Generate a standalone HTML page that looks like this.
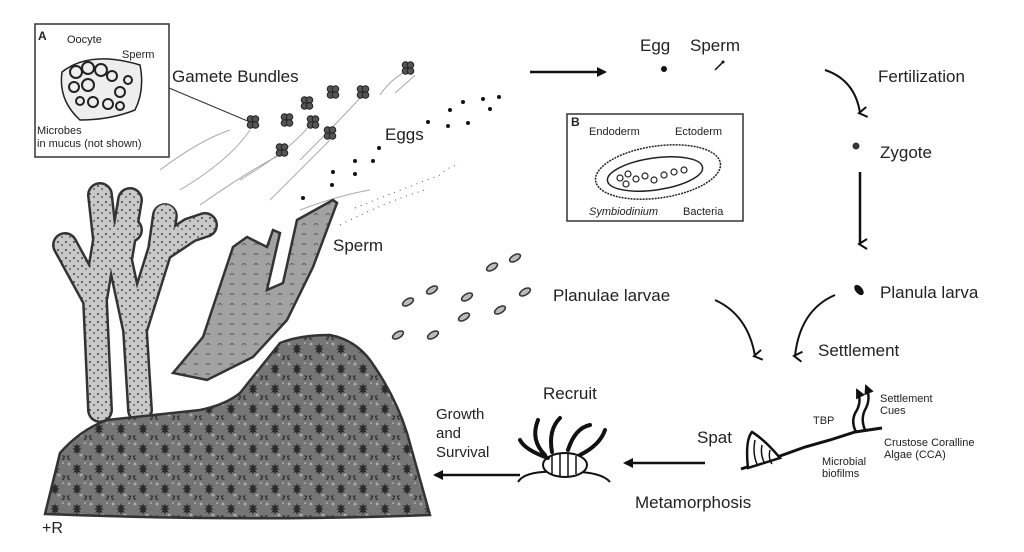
<!DOCTYPE html>
<html><head><meta charset="utf-8"><style>
html,body{margin:0;padding:0;background:#fff;}
svg{display:block}
text{font-family:"Liberation Sans",Arial,sans-serif;fill:#222}
</style></head><body>
<svg width="1024" height="552" viewBox="0 0 1024 552" xmlns="http://www.w3.org/2000/svg">
<defs>
<pattern id="stars" width="22" height="20" patternUnits="userSpaceOnUse">
<rect width="22" height="20" fill="#767676"/>
<circle cx="3" cy="4" r="1.5" fill="#aaa"/><circle cx="15" cy="15" r="1.5" fill="#aaa"/><circle cx="19" cy="3" r="1" fill="#aaa"/>
<path d="M11 3 l1 3 3-1-2 3 3 1-3 1 2 3-3-1-1 3-1-3-3 1 2-3-3-1 3-1-2-3 3 1z" fill="#2a2a2a"/>
<path d="M0 13 l1 3 3-1-2 3 3 1-3 1 M22 13 l-1 3-3-1 2 3-3 1 3 1" fill="#2a2a2a"/>
</pattern>
<pattern id="gray" width="12" height="10" patternUnits="userSpaceOnUse">
<rect width="12" height="10" fill="#a2a2a2"/>
<path d="M2 5 q2 -3 4 0" stroke="#666" fill="none" stroke-width="1.2"/>
</pattern>
<pattern id="speck" width="8" height="8" patternUnits="userSpaceOnUse">
<rect width="8" height="8" fill="#c8c8c8"/>
<circle cx="2" cy="2" r="1" fill="#444"/><circle cx="6" cy="5" r="1" fill="#666"/>
</pattern>
<marker id="ah" markerWidth="10" markerHeight="10" refX="8" refY="5" orient="auto" markerUnits="userSpaceOnUse"><path d="M0 0 L10 5 L0 10 z" fill="#111"/></marker>
<marker id="av" markerWidth="14" markerHeight="14" refX="7" refY="10" orient="auto" markerUnits="userSpaceOnUse"><path d="M2 3 L7 11 L12 3" fill="none" stroke="#111" stroke-width="2"/></marker>
<g id="bun"><circle cx="-2.5" cy="-3" r="3.3"/><circle cx="2.5" cy="-3" r="3.3"/><circle cx="-2.5" cy="3" r="3.3"/><circle cx="2.5" cy="3" r="3.3"/></g>
</defs>

<!-- Box A -->
<rect x="35" y="24" width="134" height="133" fill="#fff" stroke="#333" stroke-width="1.5"/>
<text x="38" y="40" font-size="12" font-weight="bold">A</text>
<text x="67" y="43" font-size="11">Oocyte</text>
<text x="122" y="58" font-size="11">Sperm</text>
<text x="37" y="134" font-size="11">Microbes</text>
<text x="37" y="147" font-size="11">in mucus (not shown)</text>
<path d="M62 72 Q90 50 140 65 Q145 90 135 110 Q110 120 80 120 Q58 100 62 72z" fill="#eee" stroke="#222" stroke-width="1.5"/>
<g fill="none" stroke="#222" stroke-width="2">
<circle cx="76" cy="72" r="6"/><circle cx="88" cy="68" r="6"/><circle cx="101" cy="70" r="6"/><circle cx="112" cy="76" r="5"/>
<circle cx="74" cy="87" r="5"/><circle cx="88" cy="85" r="6"/><circle cx="120" cy="92" r="5"/><circle cx="128" cy="80" r="4"/>
<circle cx="80" cy="101" r="4"/><circle cx="93" cy="102" r="5"/><circle cx="108" cy="104" r="5"/><circle cx="120" cy="106" r="4"/>
</g>
<line x1="169" y1="88" x2="250" y2="122" stroke="#333" stroke-width="1"/>

<!-- gamete bundles -->
<g stroke="#aaa" fill="none" stroke-width="1">
<path d="M180 190 Q230 160 250 130"/><path d="M200 205 Q250 170 280 155"/><path d="M240 180 Q290 150 310 125"/><path d="M270 200 Q310 160 330 140"/>
<path d="M300 160 Q340 120 360 98"/><path d="M380 95 Q390 80 405 72"/><path d="M395 93 Q410 80 415 75"/><path d="M160 170 Q200 140 230 130"/>
<path d="M300 210 Q340 195 370 190"/>
</g>
<g stroke="#555" fill="none" stroke-width="1" stroke-dasharray="1 5">
<path d="M355 208 Q400 190 440 175 Q450 165 460 165"/><path d="M340 225 Q390 200 425 190"/>
</g>
<g fill="#555" stroke="#222" stroke-width="1">
<use href="#bun" x="253" y="122"/><use href="#bun" x="287" y="120"/><use href="#bun" x="307" y="103"/><use href="#bun" x="313" y="122"/>
<use href="#bun" x="333" y="92"/><use href="#bun" x="330" y="133"/><use href="#bun" x="363" y="92"/><use href="#bun" x="282" y="150"/><use href="#bun" x="408" y="68"/>
</g>
<g fill="#111">
<circle cx="303" cy="198" r="2"/><circle cx="332" cy="185" r="2"/><circle cx="333" cy="172" r="2"/><circle cx="355" cy="174" r="2"/>
<circle cx="355" cy="161" r="2"/><circle cx="373" cy="161" r="2"/><circle cx="379" cy="148" r="2"/><circle cx="428" cy="122" r="2"/>
<circle cx="448" cy="126" r="2"/><circle cx="450" cy="110" r="2"/><circle cx="463" cy="102" r="2"/><circle cx="468" cy="123" r="2"/>
<circle cx="483" cy="99" r="2"/><circle cx="490" cy="109" r="2"/><circle cx="499" cy="97" r="2"/>
</g>
<text x="172" y="82" font-size="17">Gamete Bundles</text>
<text x="385" y="140" font-size="17">Eggs</text>
<text x="333" y="251" font-size="17">Sperm</text>

<!-- branching coral -->
<g fill="none" stroke="#333" stroke-linecap="round" stroke-linejoin="round" stroke-width="26" stroke-dasharray="3 2">
<path d="M100 410 L95 300 L65 245 M95 300 L105 240 L100 195 M105 240 L130 230"/>
<path d="M140 410 L135 330 L120 260 L130 200 M135 330 L160 250 L165 215 M160 250 L190 230 L205 225"/>
</g>
<g fill="none" stroke="url(#speck)" stroke-linecap="round" stroke-linejoin="round" stroke-width="21">
<path d="M100 410 L95 300 L65 245 M95 300 L105 240 L100 195 M105 240 L130 230"/>
<path d="M140 410 L135 330 L120 260 L130 200 M135 330 L160 250 L165 215 M160 250 L190 230 L205 225"/>
</g>

<!-- gray coral -->
<path d="M173 373 L203 337 L233 247 L247 237 L267 247 L273 230 L280 233 L267 290 L283 283 L297 220 L333 200 L337 203 L313 267 L287 320 L253 357 L207 380 Z" fill="url(#gray)" stroke="#333" stroke-width="2.5"/>

<!-- mound -->
<path d="M45 514 L60 453 Q80 430 107 420 L200 410 Q225 405 240 393 L280 343 Q300 335 330 335 Q355 340 370 360 Q395 395 407 433 L430 515 Q250 522 45 514Z" fill="url(#stars)" stroke="#333" stroke-width="2.5"/>
<text x="42" y="533" font-size="16" font-family="Liberation Serif">+R</text>

<!-- larvae -->
<g fill="#bbb" stroke="#333" stroke-width="1.5">
<ellipse cx="408" cy="302" rx="6" ry="3" transform="rotate(-30 408 302)"/><ellipse cx="432" cy="290" rx="6" ry="3" transform="rotate(-30 432 290)"/>
<ellipse cx="467" cy="297" rx="6" ry="3" transform="rotate(-30 467 297)"/><ellipse cx="492" cy="267" rx="6" ry="3" transform="rotate(-30 492 267)"/>
<ellipse cx="515" cy="258" rx="6" ry="3" transform="rotate(-30 515 258)"/><ellipse cx="398" cy="335" rx="6" ry="3" transform="rotate(-30 398 335)"/>
<ellipse cx="433" cy="335" rx="6" ry="3" transform="rotate(-30 433 335)"/><ellipse cx="464" cy="317" rx="6" ry="3" transform="rotate(-30 464 317)"/>
<ellipse cx="500" cy="310" rx="6" ry="3" transform="rotate(-30 500 310)"/><ellipse cx="525" cy="292" rx="6" ry="3" transform="rotate(-30 525 292)"/>
</g>

<!-- top right -->
<line x1="530" y1="72" x2="605" y2="72" stroke="#111" stroke-width="2.5" marker-end="url(#ah)"/>
<text x="640" y="51" font-size="17">Egg</text><text x="690" y="51" font-size="17">Sperm</text>
<circle cx="664" cy="69" r="3" fill="#111"/><path d="M715 70 L722 63" stroke="#111" stroke-width="1.5"/><circle cx="723" cy="62" r="1.5" fill="#111"/>
<path d="M825 70 Q855 80 860 113" fill="none" stroke="#111" stroke-width="2" marker-end="url(#av)"/>
<text x="878" y="82" font-size="17">Fertilization</text>
<circle cx="856" cy="146" r="3.5" fill="#333"/>
<text x="880" y="158" font-size="17">Zygote</text>
<line x1="860" y1="172" x2="860" y2="244" stroke="#111" stroke-width="2.5" marker-end="url(#av)"/>
<ellipse cx="859" cy="290" rx="3.5" ry="6" transform="rotate(-40 859 290)" fill="#111"/>
<text x="880" y="298" font-size="17">Planula larva</text>

<!-- Box B -->
<rect x="567" y="114" width="176" height="107" fill="#fff" stroke="#333" stroke-width="1.5"/>
<text x="571" y="126" font-size="12" font-weight="bold">B</text>
<text x="589" y="135" font-size="11">Endoderm</text><text x="675" y="135" font-size="11">Ectoderm</text>
<text x="589" y="215" font-size="11" font-style="italic">Symbiodinium</text><text x="683" y="215" font-size="11">Bacteria</text>
<ellipse cx="658" cy="172" rx="63" ry="26" transform="rotate(-8 658 172)" fill="none" stroke="#222" stroke-width="1.5" stroke-dasharray="2 1"/>
<ellipse cx="655" cy="174" rx="48" ry="16" transform="rotate(-8 655 174)" fill="none" stroke="#222" stroke-width="1.5"/>
<g fill="none" stroke="#222" stroke-width="1.2"><circle cx="620" cy="178" r="3"/><circle cx="628" cy="174" r="3"/><circle cx="636" cy="179" r="3"/><circle cx="645" cy="176" r="3"/><circle cx="654" cy="180" r="3"/><circle cx="664" cy="175" r="3"/><circle cx="674" cy="172" r="3"/><circle cx="684" cy="170" r="3"/><circle cx="626" cy="184" r="3"/></g>

<text x="553" y="301" font-size="17">Planulae larvae</text>
<path d="M715 300 Q748 315 755 356" fill="none" stroke="#111" stroke-width="2" marker-end="url(#av)"/>
<path d="M835 295 Q800 310 795 356" fill="none" stroke="#111" stroke-width="2" marker-end="url(#av)"/>
<text x="818" y="356" font-size="17">Settlement</text>

<!-- bottom right -->
<text x="697" y="443" font-size="17">Spat</text>
<line x1="705" y1="463" x2="625" y2="463" stroke="#111" stroke-width="2.5" marker-end="url(#ah)"/>
<text x="635" y="508" font-size="17">Metamorphosis</text>
<path d="M741 469 L780 456 L805 447 L830 440 L855 432 L882 428" fill="none" stroke="#111" stroke-width="3"/>
<path d="M748 468 Q745 440 752 432 Q765 440 780 458 Z" fill="#fff" stroke="#111" stroke-width="2.5"/>
<path d="M755 440 Q752 455 758 466 M762 445 Q760 455 765 464 M770 450 Q768 458 772 464" stroke="#111" fill="none" stroke-width="1.5"/>
<path d="M856 432 Q850 420 857 410 Q862 400 857 390" fill="none" stroke="#111" stroke-width="2.5" marker-end="url(#ah)"/>
<path d="M865 430 Q860 418 866 408 Q871 398 866 386" fill="none" stroke="#111" stroke-width="2.5" marker-end="url(#ah)"/>
<text x="813" y="424" font-size="11">TBP</text>
<text x="880" y="402" font-size="11">Settlement</text><text x="880" y="414" font-size="11">Cues</text>
<text x="884" y="446" font-size="11">Crustose Coralline</text><text x="884" y="458" font-size="11">Algae (CCA)</text>
<text x="822" y="465" font-size="11">Microbial</text><text x="822" y="477" font-size="11">biofilms</text>

<text x="543" y="399" font-size="17">Recruit</text>
<path d="M518 482 Q525 470 560 472 Q600 470 610 482" fill="none" stroke="#111" stroke-width="2"/>
<ellipse cx="565" cy="465" rx="22" ry="12" fill="#fff" stroke="#111" stroke-width="2"/>
<path d="M552 456 v18 M560 454 v22 M568 454 v22 M576 456 v18" stroke="#111" stroke-width="1.5"/>
<path d="M545 455 Q530 440 538 420 M552 452 Q548 430 560 418 M568 450 Q575 428 590 425 M580 455 Q600 445 605 430 M548 458 Q525 450 520 440" fill="none" stroke="#111" stroke-width="4" stroke-linecap="round"/>

<text x="436" y="419" font-size="15">Growth</text>
<text x="436" y="438" font-size="15">and</text>
<text x="436" y="457" font-size="15">Survival</text>
<line x1="520" y1="475" x2="435" y2="475" stroke="#111" stroke-width="2.5" marker-end="url(#ah)"/>
</svg>
</body></html>
